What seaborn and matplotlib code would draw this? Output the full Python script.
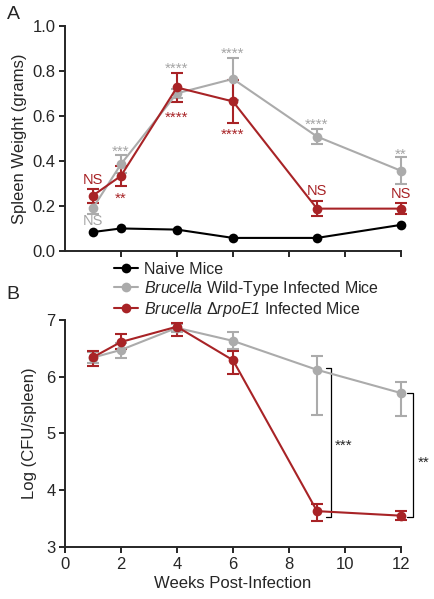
import matplotlib
matplotlib.use("Agg")
import matplotlib.pyplot as plt
import seaborn as sns
import pandas as pd
from matplotlib.lines import Line2D

# data
weeks = [1, 2, 4, 6, 9, 12]

naive_weight = [0.084, 0.100, 0.095, 0.058, 0.058, 0.116]
wt_weight = [0.190, 0.385, 0.700, 0.764, 0.508, 0.356]
wt_weight_err = [0.025, 0.040, 0.020, 0.095, 0.033, 0.060]
mut_weight = [0.246, 0.333, 0.726, 0.664, 0.188, 0.188]
mut_weight_err = [0.031, 0.045, 0.066, 0.095, 0.034, 0.025]

wt_cfu = [6.335, 6.47, 6.86, 6.63, 6.12, 5.71]
wt_cfu_lo = [0.10, 0.15, 0.08, 0.15, 0.80, 0.41]
wt_cfu_hi = [0.10, 0.13, 0.06, 0.15, 0.25, 0.20]
mut_cfu = [6.34, 6.61, 6.88, 6.29, 3.63, 3.55]
mut_cfu_lo = [0.15, 0.13, 0.16, 0.25, 0.17, 0.08]
mut_cfu_hi = [0.12, 0.14, 0.07, 0.17, 0.12, 0.08]

# significance labels (panel A), y = centre of the label
wt_sig = ["NS", "***", "****", "****", "****", "**"]
wt_sig_y = [0.138, 0.46, 0.83, 0.896, 0.582, 0.449]
mut_sig = ["NS", "**", "****", "****", "NS", "NS"]
mut_sig_y = [0.32, 0.253, 0.61, 0.535, 0.274, 0.259]

RED = "#a82326"
GRAY = "#ababab"
BLACK = "#000000"

sns.set_style("ticks")
plt.rcParams["font.family"] = ["Liberation Sans", "DejaVu Sans"]
plt.rcParams["mathtext.fontset"] = "custom"
plt.rcParams["mathtext.rm"] = "Liberation Sans"
# sf slot used for italic so digits stay italic too
plt.rcParams["mathtext.sf"] = "Liberation Sans:italic"
plt.rcParams["axes.linewidth"] = 1.4
plt.rcParams["xtick.major.width"] = 1.4
plt.rcParams["ytick.major.width"] = 1.4
plt.rcParams["xtick.major.size"] = 4.5
plt.rcParams["ytick.major.size"] = 4.5
plt.rcParams["xtick.major.pad"] = 2.5
plt.rcParams["ytick.major.pad"] = 2
plt.rcParams["xtick.labelsize"] = 12
plt.rcParams["ytick.labelsize"] = 12

fig = plt.figure(figsize=(4.35, 5.99), dpi=100)
axA = fig.add_axes([0.149, 0.581, 0.773, 0.376])
axB = fig.add_axes([0.149, 0.087, 0.773, 0.379])

dfA = pd.DataFrame({
    "week": weeks * 3,
    "weight": naive_weight + wt_weight + mut_weight,
    "group": ["naive"] * 6 + ["wt"] * 6 + ["mut"] * 6,
})
dfB = pd.DataFrame({
    "week": weeks * 2,
    "cfu": wt_cfu + mut_cfu,
    "group": ["wt"] * 6 + ["mut"] * 6,
})
pal = {"naive": BLACK, "wt": GRAY, "mut": RED}

lw = 1.5
ms = 7

# panel A
for g, err in [("wt", wt_weight_err), ("mut", mut_weight_err)]:
    sub = dfA[dfA.group == g]
    axA.errorbar(sub.week, sub.weight, yerr=err, fmt="none", ecolor=pal[g],
                 elinewidth=lw, capsize=4, capthick=lw, clip_on=False, zorder=3)
sns.lineplot(data=dfA, x="week", y="weight", hue="group", palette=pal,
             hue_order=["naive", "wt", "mut"], marker="o", markersize=ms,
             markeredgewidth=0, linewidth=lw, legend=False, ax=axA,
             zorder=4, clip_on=False)

def sig(ax, x, y, s, color):
    size = 11 if "*" in s else 10.5
    k = 0.56 if "*" in s else 0.36
    ax.annotate(s, (x, y), xytext=(0, -k * size), textcoords="offset points",
                ha="center", va="baseline", color=color, fontsize=size)

for x, s, y in zip(weeks, wt_sig, wt_sig_y):
    sig(axA, x, y, s, "#a5a5a5")
for x, s, y in zip(weeks, mut_sig, mut_sig_y):
    sig(axA, x, y, s, RED)

axA.set_xlim(0, 12)
axA.set_ylim(0, 1.0)
axA.set_xticks([2, 4, 6, 8, 10, 12])
axA.set_xticklabels([])
axA.set_yticks([0.0, 0.2, 0.4, 0.6, 0.8, 1.0])
axA.set_yticklabels(["0.0", "0.2", "0.4", "0.6", "0.8", "1.0"])
axA.set_xlabel("")
axA.set_ylabel("Spleen Weight (grams)", fontsize=12, labelpad=4)
sns.despine(ax=axA)

# panel B
for g, lo, hi in [("wt", wt_cfu_lo, wt_cfu_hi), ("mut", mut_cfu_lo, mut_cfu_hi)]:
    sub = dfB[dfB.group == g]
    axB.errorbar(sub.week, sub.cfu, yerr=[lo, hi], fmt="none", ecolor=pal[g],
                 elinewidth=lw, capsize=4, capthick=lw, clip_on=False, zorder=3)
sns.lineplot(data=dfB, x="week", y="cfu", hue="group", palette=pal,
             hue_order=["wt", "mut"], marker="o", markersize=ms,
             markeredgewidth=0, linewidth=lw, legend=False, ax=axB,
             zorder=4, clip_on=False)

# brackets
for x0, x1, ytop, ybot, s, tx, ty in [(9.31, 9.51, 6.15, 3.53, "***", 9.96, 4.86),
                                      (12.22, 12.44, 5.71, 3.53, "**", 12.8, 4.57)]:
    axB.plot([x0, x1, x1, x0], [ytop, ytop, ybot, ybot], color="black",
             lw=0.9, clip_on=False)
    axB.annotate(s, (tx, ty), xytext=(0, -0.56 * 11), textcoords="offset points",
                 ha="center", va="baseline", fontsize=11, annotation_clip=False)

axB.set_xlim(0, 12)
axB.set_ylim(3, 7)
axB.set_xticks([0, 2, 4, 6, 8, 10, 12])
axB.set_yticks([3, 4, 5, 6, 7])
axB.set_xlabel("Weeks Post-Infection", fontsize=12, labelpad=3)
axB.set_ylabel("Log (CFU/spleen)", fontsize=12, labelpad=7)
sns.despine(ax=axB)

# legend between the panels
handles = [Line2D([], [], color=c, marker="o", markersize=ms, markeredgewidth=0, lw=lw)
           for c in [BLACK, GRAY, RED]]
labels = ["Naive Mice",
          r"$\mathsf{Brucella}$ Wild-Type Infected Mice",
          r"$\mathsf{Brucella}$ $\Delta\mathsf{rpoE1}$ Infected Mice"]
fig.legend(handles, labels, loc="upper left", bbox_to_anchor=(0.262, 0.563),
           frameon=False, fontsize=11.5, handlelength=1.5, handletextpad=0.4,
           labelspacing=0.12, borderpad=0, borderaxespad=0)

fig.text(0.015, 0.975, "A", fontsize=14, va="center")
fig.text(0.015, 0.508, "B", fontsize=14, va="center")

fig.savefig("out.png", dpi=100)
